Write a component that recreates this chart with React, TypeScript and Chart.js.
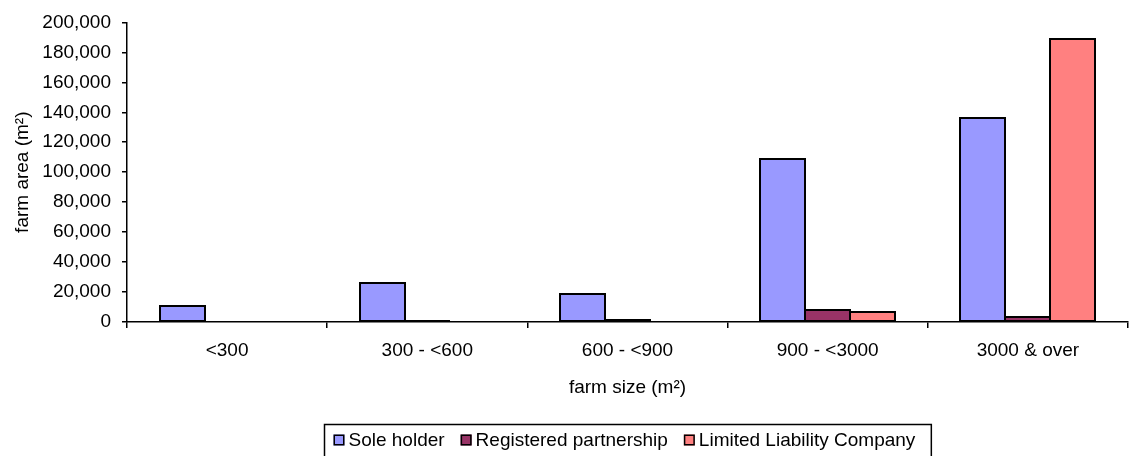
import React, { useEffect, useRef } from "react";
import { Chart, registerables } from "chart.js";

Chart.register(...registerables);

const categories = ["<300", "300 - <600", "600 - <900", "900 - <3000", "3000 & over"];
const seriesNames = ["Sole holder", "Registered partnership", "Limited Liability Company"];
const soleHolder = [10400, 26300, 18400, 109000, 136000];
const registeredPartnership = [0, 700, 1300, 7800, 3600];
const limitedLiability = [0, 0, 0, 6700, 189000];
const seriesColors = ["#9999FF", "#993366", "#FF8080"];
const yTicksMax = 200000;
const yTickStep = 20000;

const FONT = "'Liberation Sans', Arial, sans-serif";
const FS = 19;

const barOutlinePlugin = {
  id: "barOutline",
  afterDatasetsDraw(chart: any) {
    const ctx = chart.ctx;
    ctx.save();
    ctx.strokeStyle = "#000";
    ctx.lineWidth = 2;
    chart.data.datasets.forEach((ds: any, i: number) => {
      const meta = chart.getDatasetMeta(i);
      meta.data.forEach((el: any, j: number) => {
        const v = ds.data[j];
        if (!v) return;
        const { x, y, base, width } = el.getProps(["x", "y", "base", "width"], true);
        const l = Math.round(x - width / 2);
        const r = Math.round(x + width / 2);
        const t = Math.round(y);
        const b = Math.round(base);
        ctx.strokeRect(l, t, r - l, b - t);
      });
    });
    ctx.restore();
  },
};

const legendPlugin = {
  id: "boxLegend",
  afterDraw(chart: any) {
    const ctx = chart.ctx;
    const area = chart.chartArea;
    ctx.save();
    ctx.font = `${FS}px ${FONT}`;
    const marker = 11;
    const gapText = 4;
    const gapItem = 16;
    const items = chart.data.datasets.map((d: any) => ({
      label: d.label,
      color: d.backgroundColor,
      w: ctx.measureText(d.label).width,
    }));
    let content = 0;
    items.forEach((it: any, i: number) => {
      content += marker + gapText + it.w + (i < items.length - 1 ? gapItem : 0);
    });
    const padL = 9;
    const padR = 16;
    const boxW = content + padL + padR;
    const cx = (area.left + area.right) / 2;
    const boxL = Math.round(cx - boxW / 2) + 0.5;
    const boxT = 424.5;
    ctx.strokeStyle = "#000";
    ctx.lineWidth = 1.5;
    ctx.strokeRect(boxL, boxT, boxW, 60);
    let x = boxL + padL;
    const cy = 440;
    items.forEach((it: any) => {
      ctx.fillStyle = it.color;
      ctx.fillRect(x, cy - marker / 2, marker, marker);
      ctx.lineWidth = 1.5;
      ctx.strokeStyle = "#000";
      ctx.strokeRect(x + 0.75, cy - marker / 2 + 0.75, marker - 1.5, marker - 1.5);
      x += marker + gapText;
      ctx.fillStyle = "#000";
      ctx.textBaseline = "middle";
      ctx.textAlign = "left";
      ctx.fillText(it.label, x, cy + 1);
      x += it.w + gapItem;
    });
    ctx.restore();
  },
};

export default function App() {
  const ref = useRef<HTMLCanvasElement | null>(null);
  useEffect(() => {
    if (!ref.current) return;
    const data = [soleHolder, registeredPartnership, limitedLiability];
    const chart = new Chart(ref.current, {
      type: "bar",
      data: {
        labels: categories,
        datasets: seriesNames.map((name, i) => ({
          label: name,
          data: data[i],
          backgroundColor: seriesColors[i],
          borderWidth: 0,
          categoryPercentage: 0.675,
          barPercentage: 1.0,
        })),
      },
      options: {
        responsive: false,
        animation: false,
        events: [],
        layout: { padding: { left: 0, top: 20, right: 5, bottom: 0 } },
        plugins: {
          legend: { display: false },
          tooltip: { enabled: false },
        },
        scales: {
          x: {
            grid: {
              offset: true,
              drawOnChartArea: false,
              drawTicks: true,
              tickLength: 6,
              color: "#000",
              lineWidth: 1.5,
            },
            border: { display: true, color: "#000", width: 1.5 },
            ticks: {
              color: "#000",
              font: { family: FONT, size: FS },
              padding: 11,
              maxRotation: 0,
              autoSkip: false,
            },
            title: {
              display: true,
              text: "farm size (m²)",
              color: "#000",
              font: { family: FONT, size: FS },
              padding: { top: 0, bottom: 57 },
            },
            afterFit: (scale: any) => {
              scale.height = 456 - 322;
            },
          },
          y: {
            min: 0,
            max: yTicksMax,
            grid: {
              drawOnChartArea: false,
              drawTicks: true,
              tickLength: 5,
              color: "#000",
              lineWidth: 1.5,
            },
            border: { display: true, color: "#000", width: 1.5 },
            ticks: {
              stepSize: yTickStep,
              color: "#000",
              font: { family: FONT, size: FS },
              padding: 11,
              callback: (v: any) => Number(v).toLocaleString("en-US"),
            },
            title: {
              display: true,
              text: "farm area (m²)",
              color: "#000",
              font: { family: FONT, size: FS },
              padding: { top: 11, bottom: 0 },
            },
            afterFit: (scale: any) => {
              scale.width = 127;
            },
          },
        },
      },
      plugins: [barOutlinePlugin, legendPlugin],
    });
    return () => chart.destroy();
  }, []);
  return (
    <div style={{ position: "absolute", left: 0, top: 0, width: 1133, height: 456, background: "#fff" }}>
      <canvas ref={ref} width={1133} height={456} style={{ display: "block" }} />
    </div>
  );
}
